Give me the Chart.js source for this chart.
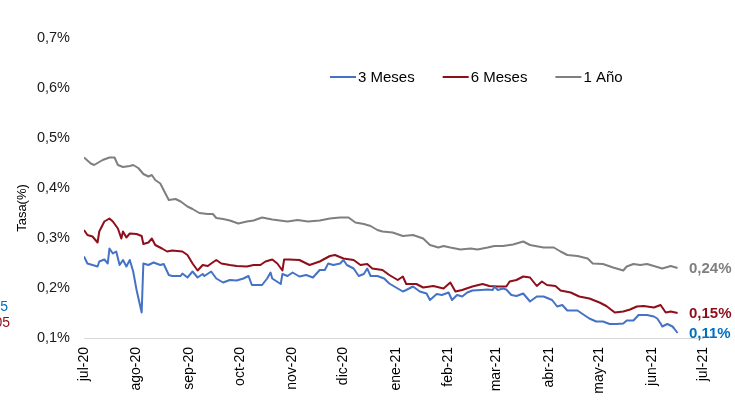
<!DOCTYPE html>
<html lang="es">
<head>
<meta charset="UTF-8">
<title>Tasas 3 Meses / 6 Meses / 1 Año</title>
<script src="https://cdn.jsdelivr.net/npm/chart.js@4.4.0/dist/chart.umd.min.js"></script>
<style>
  html, body { margin: 0; padding: 0; background: #fff; }
  canvas { display: block; }
</style>
</head>
<body>
<canvas id="grafico" width="735" height="405"></canvas>
<script>
// eje x: dias desde 1-jul-2020, una etiqueta por mes
const meses = ["jul-20", "ago-20", "sep-20", "oct-20", "nov-20", "dic-20", "ene-21", "feb-21", "mar-21", "abr-21", "may-21", "jun-21", "jul-21"];
const diasMes = [0, 31, 62, 92, 123, 153, 184, 215, 243, 274, 304, 335, 365];

// 3 Meses
const dias3m = [0,2,5,8,9,12,14,15,17,19,21,23,25,27,29,31,34,35,38,41,45,47,50,52,57,58,61,64,67,70,71,75,78,82,86,90,94,97,99,105,108,110,111,116,117,120,123,127,131,135,139,142,144,147,151,153,155,159,162,165,167,169,173,177,180,185,188,190,194,198,202,204,208,211,215,217,220,223,226,229,234,238,241,242,244,247,249,252,255,259,263,267,271,276,279,282,285,291,294,298,302,306,310,314,318,320,324,327,332,336,338,340,341,344,347,348,350];
const tasa3m = [0.263,0.249,0.246,0.243,0.253,0.257,0.249,0.279,0.269,0.273,0.246,0.256,0.243,0.256,0.233,0.196,0.151,0.249,0.246,0.251,0.246,0.248,0.226,0.224,0.224,0.229,0.221,0.233,0.221,0.228,0.224,0.233,0.219,0.211,0.216,0.215,0.219,0.224,0.206,0.206,0.219,0.231,0.219,0.208,0.228,0.224,0.231,0.223,0.226,0.221,0.236,0.236,0.249,0.246,0.249,0.256,0.246,0.239,0.224,0.228,0.239,0.224,0.224,0.219,0.209,0.199,0.193,0.196,0.203,0.193,0.189,0.176,0.188,0.186,0.191,0.176,0.186,0.183,0.191,0.195,0.196,0.197,0.196,0.203,0.196,0.199,0.197,0.186,0.184,0.189,0.173,0.183,0.183,0.176,0.163,0.166,0.155,0.155,0.148,0.139,0.133,0.133,0.128,0.128,0.129,0.135,0.135,0.146,0.146,0.143,0.139,0.129,0.123,0.128,0.123,0.119,0.11];

// 6 Meses
const dias6m = [0,2,5,8,9,12,15,17,20,22,23,25,27,31,34,35,38,40,42,46,49,52,58,61,64,67,70,73,75,78,81,86,90,96,100,104,107,111,114,117,118,121,127,133,139,145,148,153,159,163,167,170,176,180,185,188,190,196,200,206,212,216,219,223,229,235,239,244,249,251,255,259,263,267,270,273,278,281,287,292,298,304,308,313,318,322,326,330,336,340,343,346,350];
const tasa6m = [0.316,0.306,0.303,0.291,0.313,0.333,0.339,0.333,0.319,0.299,0.313,0.301,0.309,0.308,0.304,0.288,0.291,0.299,0.286,0.279,0.273,0.275,0.273,0.266,0.249,0.235,0.246,0.244,0.249,0.256,0.249,0.246,0.244,0.243,0.246,0.246,0.253,0.257,0.249,0.235,0.257,0.257,0.256,0.246,0.253,0.264,0.266,0.259,0.256,0.246,0.248,0.239,0.236,0.226,0.216,0.223,0.208,0.208,0.201,0.204,0.199,0.211,0.193,0.196,0.203,0.208,0.204,0.203,0.203,0.213,0.216,0.223,0.221,0.204,0.213,0.206,0.204,0.195,0.191,0.183,0.179,0.171,0.164,0.151,0.153,0.157,0.163,0.164,0.161,0.166,0.151,0.153,0.15];

// 1 Año
const dias1a = [0,4,6,8,11,15,18,20,23,27,29,32,35,38,40,42,45,48,50,54,57,61,64,68,73,76,78,82,86,91,96,100,105,111,120,126,132,139,145,151,156,160,165,169,173,176,182,188,194,200,204,209,212,216,222,228,232,238,242,247,253,259,263,271,277,281,285,291,297,300,306,312,318,320,324,328,332,336,341,346,350];
const tasa1a = [0.461,0.449,0.446,0.45,0.456,0.461,0.461,0.446,0.442,0.444,0.446,0.44,0.428,0.423,0.426,0.416,0.409,0.389,0.376,0.378,0.373,0.363,0.358,0.35,0.348,0.348,0.34,0.338,0.335,0.329,0.333,0.335,0.341,0.337,0.333,0.336,0.333,0.335,0.339,0.341,0.341,0.331,0.328,0.324,0.316,0.313,0.311,0.304,0.306,0.299,0.286,0.281,0.284,0.281,0.277,0.279,0.277,0.281,0.284,0.284,0.287,0.293,0.286,0.281,0.281,0.273,0.266,0.264,0.259,0.249,0.248,0.241,0.235,0.243,0.248,0.246,0.248,0.244,0.239,0.244,0.24];

const fuente = 'Arial, "Liberation Sans", sans-serif';

function puntos(dias, tasas) {
    return dias.map((d, i) => ({ x: d, y: tasas[i] }));
}

// leyenda, titulo del eje y etiquetas finales dibujadas a mano
const extras = {
    id: 'extras',
    afterDraw(chart) {
        const ctx = chart.ctx;
        const yScale = chart.scales.y;
        ctx.save();

        // leyenda dentro del area
        ctx.font = '15px ' + fuente;
        ctx.textBaseline = 'middle';
        ctx.textAlign = 'left';
        let x = 330;
        const yLey = 77;
        chart.data.datasets.forEach(ds => {
            ctx.strokeStyle = ds.borderColor;
            ctx.lineWidth = 2;
            ctx.beginPath();
            ctx.moveTo(x, yLey);
            ctx.lineTo(x + 26, yLey);
            ctx.stroke();
            ctx.fillStyle = '#000';
            ctx.fillText(ds.label, x + 28, yLey + 1);
            x += 28 + ctx.measureText(ds.label).width + 28;
        });

        // titulo eje y
        ctx.save();
        ctx.translate(22, 208);
        ctx.rotate(-Math.PI / 2);
        ctx.textAlign = 'center';
        ctx.font = '13px ' + fuente;
        ctx.fillStyle = '#000';
        ctx.fillText('Tasa(%)', 0, 0);
        ctx.restore();

        // ultimo valor de cada serie
        ctx.font = 'bold 15px ' + fuente;
        ctx.textAlign = 'left';
        chart.data.datasets.forEach(ds => {
            const ult = ds.data[ds.data.length - 1].y;
            ctx.fillStyle = ds.etiquetaColor;
            ctx.fillText(ult.toFixed(2).replace('.', ',') + '%', 689, yScale.getPixelForValue(ult) + 1);
        });

        // restos de texto recortados en el borde izquierdo
        ctx.font = '14px ' + fuente;
        ctx.textAlign = 'right';
        ctx.fillStyle = '#0070C0';
        ctx.fillText('0,05', 8, 307);
        ctx.fillStyle = '#8E0E1A';
        ctx.fillText('0,05', 10, 323);

        ctx.restore();
    }
};

new Chart(document.getElementById('grafico'), {
    type: 'line',
    data: {
        datasets: [
            { label: '3 Meses', data: puntos(dias3m, tasa3m), borderColor: '#4472C4', etiquetaColor: '#0070C0' },
            { label: '6 Meses', data: puntos(dias6m, tasa6m), borderColor: '#8E0E1A', etiquetaColor: '#8E0E1A' },
            { label: '1 Año', data: puntos(dias1a, tasa1a), borderColor: '#7F7F7F', etiquetaColor: '#7F7F7F' }
        ].map(ds => Object.assign(ds, { borderWidth: 2, pointRadius: 0, tension: 0, fill: false, borderJoinStyle: 'round' }))
    },
    options: {
        responsive: false,
        animation: false,
        layout: { padding: { top: 38, right: 32, bottom: 0, left: 0 } },
        plugins: {
            legend: { display: false },
            tooltip: { enabled: false }
        },
        scales: {
            x: {
                type: 'linear',
                min: 0,
                max: 365,
                afterBuildTicks: s => { s.ticks = diasMes.map(v => ({ value: v })); },
                afterFit: s => { s.height = 67; },
                grid: { drawOnChartArea: false, drawTicks: false },
                border: { color: '#D9D9D9', width: 1 },
                ticks: {
                    autoSkip: false,
                    maxRotation: 90,
                    minRotation: 90,
                    padding: 9,
                    color: '#000',
                    font: { size: 14, family: fuente },
                    callback: v => meses[diasMes.indexOf(v)]
                }
            },
            y: {
                min: 0.1,
                max: 0.7,
                afterFit: s => { s.width = 84; },
                grid: { display: false },
                border: { display: false },
                ticks: {
                    stepSize: 0.1,
                    padding: 6,
                    color: '#1a1a1a',
                    font: { size: 14.5, family: fuente },
                    callback: v => v.toFixed(1).replace('.', ',') + '%'
                }
            }
        }
    },
    plugins: [extras]
});
</script>
</body>
</html>
